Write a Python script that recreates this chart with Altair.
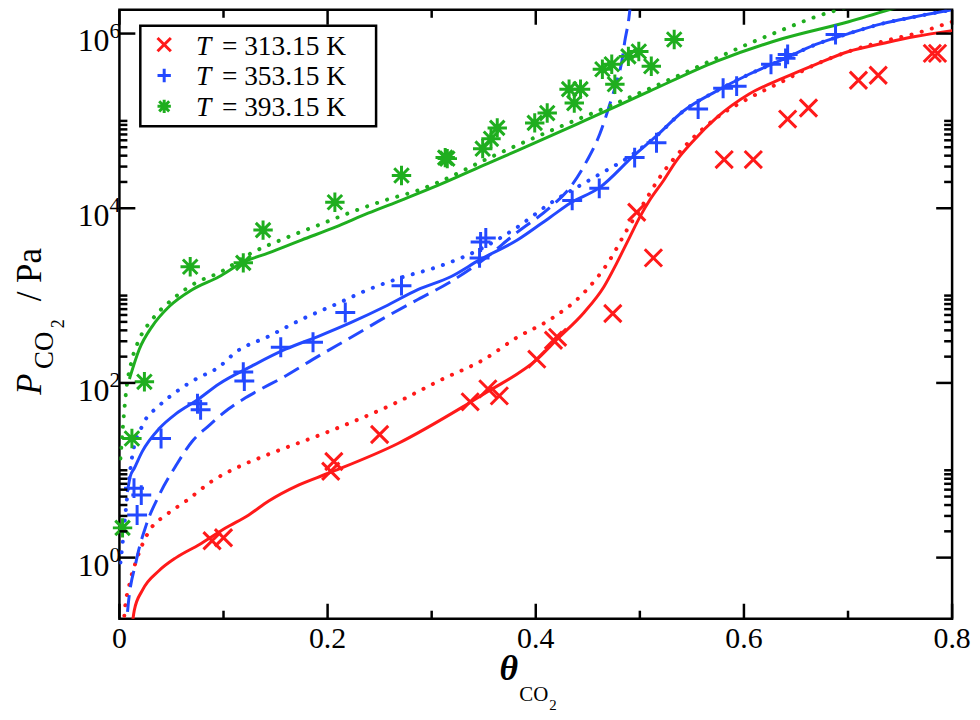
import altair as alt
import pandas as pd

W, H = 837, 612
FONT = "Liberation Serif, Times New Roman, Times, serif"
RED, BLUE, GREEN = "#ff1a1a", "#2349ff", "#1fae1f"

# ---------------- data ----------------
red_theta = [0.089, 0.100, 0.203, 0.206, 0.250, 0.337, 0.354, 0.365, 0.401, 0.417, 0.421,
             0.474, 0.497, 0.513, 0.581, 0.609, 0.642, 0.662, 0.710, 0.729, 0.781, 0.786]
red_P = [1.56, 1.69, 9.75, 12.6, 25.7, 60.8, 85.5, 71.1, 187, 308, 333,
         624, 9010, 2700, 36100, 36100, 105000, 140600, 292000, 333000, 593000, 593000]

blue_theta = [0.014, 0.021, 0.017, 0.040, 0.075, 0.078, 0.119, 0.120, 0.155, 0.186, 0.217,
              0.271, 0.347, 0.352, 0.346, 0.435, 0.461, 0.495, 0.516, 0.556, 0.580, 0.593,
              0.626, 0.640, 0.642, 0.688]
blue_P = [6.24, 5.2, 3.08, 23.1, 57.7, 49.3, 133, 105, 256, 292, 641,
          1300, 4110, 4560, 2700, 12300, 16900, 38000, 56200, 137000, 237000, 250000,
          445000, 520000, 577000, 975000]

green_theta = [0.003, 0.012, 0.024, 0.068, 0.119, 0.138, 0.207, 0.271, 0.313, 0.315, 0.349,
               0.357, 0.363, 0.399, 0.411, 0.432, 0.443, 0.437, 0.464, 0.473, 0.476, 0.489,
               0.499, 0.511, 0.533]
green_P = [2.19, 23.1, 103, 2140, 2370, 5620, 11700, 23700, 38000, 37000, 48100,
           62400, 83200, 94900, 123000, 231000, 231000, 160000, 390000, 445000, 263000, 548000,
           624000, 422000, 855000]

# model curves: theta and log10(P / Pa)
red_solid_theta = [0.0105, 0.0143, 0.0220, 0.0382, 0.0545, 0.0765, 0.1023, 0.1243, 0.1434, 0.1720,
                   0.2007, 0.2676, 0.3317, 0.3536, 0.4014, 0.4205, 0.4464, 0.4655, 0.4779, 0.4903,
                   0.4999, 0.5094, 0.5228, 0.5352, 0.5515, 0.5735, 0.6050, 0.6375, 0.6691, 0.7006,
                   0.7331, 0.7646, 0.8000]
red_solid_logp = [-0.966, -0.602, -0.375, -0.148, 0.0, 0.148, 0.341, 0.489, 0.648, 0.830,
                  0.966, 1.307, 1.739, 1.898, 2.273, 2.500, 2.807, 3.102, 3.375, 3.670,
                  3.898, 4.091, 4.318, 4.545, 4.773, 5.034, 5.307, 5.489, 5.648, 5.795,
                  5.886, 5.966, 6.034]

red_dot_theta = [0.0038, 0.0048, 0.0096, 0.0162, 0.0287, 0.0449, 0.0640, 0.0889, 0.1176, 0.1405,
                 0.2036, 0.2676, 0.3087, 0.3508, 0.3823, 0.4139, 0.4464, 0.4712, 0.4875, 0.5037,
                 0.5190, 0.5419, 0.5735, 0.6050, 0.6375, 0.6691, 0.7006, 0.7331, 0.7646, 0.8000]
red_dot_logp = [-0.909, -0.648, -0.307, -0.034, 0.307, 0.489, 0.648, 0.875, 1.057, 1.170,
                1.455, 1.784, 2.034, 2.273, 2.523, 2.727, 3.034, 3.409, 3.750, 4.057,
                4.352, 4.693, 5.034, 5.261, 5.455, 5.648, 5.795, 5.909, 6.0, 6.136]

blue_solid_theta = [0.0076, 0.0105, 0.0143, 0.0220, 0.0382, 0.0545, 0.0736, 0.0956, 0.1271, 0.1596,
                    0.1912, 0.2227, 0.2552, 0.2867, 0.3183, 0.3460, 0.3823, 0.4139, 0.4330, 0.4616,
                    0.4941, 0.5161, 0.5419, 0.5735, 0.6050, 0.6375, 0.6691, 0.7006, 0.7331, 0.7646,
                    0.8000]
blue_solid_logp = [0.750, 0.932, 1.023, 1.216, 1.477, 1.648, 1.795, 1.989, 2.193, 2.386,
                   2.534, 2.693, 2.875, 3.068, 3.216, 3.409, 3.636, 3.898, 4.057, 4.239,
                   4.602, 4.830, 5.114, 5.341, 5.534, 5.705, 5.875, 6.0, 6.114, 6.193,
                   6.273]

blue_dot_theta = [0.0010, 0.0029, 0.0076, 0.0124, 0.0220, 0.0382, 0.0545, 0.0736, 0.0956, 0.1118,
                  0.1434, 0.1749, 0.2074, 0.2389, 0.2705, 0.3059, 0.3508, 0.3823, 0.4139, 0.4559,
                  0.4941, 0.5161, 0.5419, 0.5735, 0.6050, 0.6375, 0.6691, 0.7006, 0.7331, 0.7646,
                  0.8000]
blue_dot_logp = [-0.057, 0.148, 0.716, 1.170, 1.511, 1.739, 1.898, 2.045, 2.182, 2.352,
                 2.534, 2.727, 2.898, 3.068, 3.205, 3.330, 3.557, 3.784, 4.057, 4.352,
                 4.625, 4.830, 5.114, 5.341, 5.534, 5.705, 5.875, 6.0, 6.114, 6.193,
                 6.273]

blue_dash_theta = [0.0067, 0.0076, 0.0162, 0.0258, 0.0382, 0.0545, 0.0698, 0.0860, 0.1051, 0.1243,
                   0.1596, 0.1912, 0.2227, 0.2552, 0.2867, 0.3183, 0.3470, 0.3823, 0.4139, 0.4330,
                   0.4492, 0.4616, 0.4712, 0.4779, 0.4827, 0.4855, 0.4894, 0.4913, 0.4932]
blue_dash_logp = [-0.909, -0.648, -0.034, 0.375, 0.716, 1.057, 1.330, 1.511, 1.705, 1.852,
                  2.080, 2.307, 2.523, 2.750, 2.955, 3.159, 3.386, 3.727, 4.011, 4.239,
                  4.545, 4.852, 5.193, 5.455, 5.682, 5.909, 6.170, 6.364, 6.590]

green_solid_theta = [0.0096, 0.0191, 0.0315, 0.0478, 0.0698, 0.0956, 0.1176, 0.1434, 0.1749, 0.2074,
                     0.2389, 0.2705, 0.3059, 0.3536, 0.3823, 0.4464, 0.5094, 0.5735, 0.6375, 0.7006,
                     0.7427, 0.7646]
green_solid_logp = [2.045, 2.386, 2.648, 2.875, 3.068, 3.216, 3.375, 3.489, 3.636, 3.784,
                    3.943, 4.091, 4.261, 4.511, 4.659, 5.0, 5.341, 5.682, 5.943, 6.136,
                    6.284, 6.364]

green_dot_theta = [0.0010, 0.0048, 0.0067, 0.0115, 0.0191, 0.0315, 0.0507, 0.0736, 0.0956, 0.1271,
                   0.1596, 0.1912, 0.2227, 0.2552, 0.2867, 0.3059, 0.3536, 0.4139, 0.4779, 0.5419,
                   0.6050, 0.6375, 0.6691, 0.7006, 0.7168]
green_dot_logp = [1.136, 1.705, 1.932, 2.239, 2.500, 2.727, 2.955, 3.148, 3.261, 3.489,
                  3.659, 3.807, 3.955, 4.091, 4.205, 4.295, 4.568, 4.886, 5.205, 5.545,
                  5.886, 6.045, 6.193, 6.307, 6.364]

x_major = [0.0, 0.2, 0.4, 0.6, 0.8]
x_major_labels = ["0", "0.2", "0.4", "0.6", "0.8"]
x_minor = [0.1, 0.3, 0.5, 0.7]
y_major = [1, 100, 1e4, 1e6]
y_major_exp = ["0", "2", "4", "6"]
y_minor = [2, 3, 4, 5, 6, 7, 8, 9, 10,
           200, 300, 400, 500, 600, 700, 800, 900, 1000,
           2e4, 3e4, 4e4, 5e4, 6e4, 7e4, 8e4, 9e4, 1e5]
legend_temps = ["313.15", "353.15", "393.15"]

# ---------------- chart ----------------
xs = alt.Scale(domain=[0, 0.8], nice=False, zero=False)
ys = alt.Scale(type="log", domain=[0.2, 1.87e6], nice=False)

X_SHAPE = "M-1,-1L1,1M-1,1L1,-1"
PLUS_SHAPE = "M-1,0L1,0M0,-1L0,1"
STAR_SHAPE = "M-1,0L1,0M0,-1L0,1M-0.75,-0.75L0.75,0.75M-0.75,0.75L0.75,-0.75"


def enc_xy(chart):
    return chart.encode(
        x=alt.X("theta:Q", scale=xs, axis=None),
        y=alt.Y("P:Q", scale=ys, axis=None),
    )


def curve(theta, logp, color, style):
    df = pd.DataFrame({"theta": theta, "P": [10 ** v for v in logp], "i": list(range(len(theta)))})
    kw = dict(color=color, clip=True, strokeWidth=3, interpolate="monotone")
    if style == "dot":
        kw.update(strokeDash=[0.1, 10.5], strokeCap="round", strokeWidth=4)
    elif style == "dash":
        kw.update(strokeDash=[17, 8])
    return enc_xy(alt.Chart(df).mark_line(**kw)).encode(order="i:Q")


def points(theta, P, shape, color, size):
    df = pd.DataFrame({"theta": theta, "P": P})
    return enc_xy(alt.Chart(df).mark_point(shape=shape, filled=False, color=color,
                                           strokeWidth=3, size=size, opacity=1))


layers = [
    curve(red_dot_theta, red_dot_logp, RED, "dot"),
    curve(red_solid_theta, red_solid_logp, RED, "solid"),
    curve(blue_dot_theta, blue_dot_logp, BLUE, "dot"),
    curve(blue_dash_theta, blue_dash_logp, BLUE, "dash"),
    curve(blue_solid_theta, blue_solid_logp, BLUE, "solid"),
    curve(green_dot_theta, green_dot_logp, GREEN, "dot"),
    curve(green_solid_theta, green_solid_logp, GREEN, "solid"),
    points(red_theta, red_P, X_SHAPE, RED, 300),
    points(blue_theta, blue_P, PLUS_SHAPE, BLUE, 400),
    points(green_theta, green_P, STAR_SHAPE, GREEN, 380),
]

# inward ticks on all four sides
TW = 2.5
def xticks(vals, length):
    df = pd.DataFrame({"v": vals})
    base = alt.Chart(df).mark_rule(color="black", strokeWidth=TW)
    xe = alt.X("v:Q", scale=xs, axis=None)
    return [base.encode(x=xe, y=alt.value(H), y2=alt.value(H - length)),
            base.encode(x=xe, y=alt.value(0), y2=alt.value(length))]

def yticks(vals, length):
    df = pd.DataFrame({"v": vals})
    base = alt.Chart(df).mark_rule(color="black", strokeWidth=TW)
    ye = alt.Y("v:Q", scale=ys, axis=None)
    return [base.encode(y=ye, x=alt.value(0), x2=alt.value(length)),
            base.encode(y=ye, x=alt.value(W), x2=alt.value(W - length))]

layers += xticks(x_major, 15) + xticks(x_minor, 8) + yticks(y_major, 16) + yticks(y_minor, 8)

# tick labels
xl = pd.DataFrame({"v": x_major, "lab": x_major_labels})
layers.append(alt.Chart(xl).mark_text(font=FONT, fontSize=30, baseline="alphabetic",
                                      align="center", color="black").encode(
    x=alt.X("v:Q", scale=xs, axis=None), y=alt.value(H + 29), text="lab:N"))

yl = pd.DataFrame({"v": y_major, "e": y_major_exp, "base": ["10"] * len(y_major)})
layers.append(alt.Chart(yl).mark_text(font=FONT, fontSize=32, baseline="alphabetic",
                                      align="right", dy=18, color="black").encode(
    y=alt.Y("v:Q", scale=ys, axis=None), x=alt.value(-10), text="base:N"))
layers.append(alt.Chart(yl).mark_text(font=FONT, fontSize=22, baseline="alphabetic",
                                      align="left", dy=4, color="black").encode(
    y=alt.Y("v:Q", scale=ys, axis=None), x=alt.value(-10), text="e:N"))

one = pd.DataFrame({"k": [0]})


def label(text, x, y, size, angle=0, style="normal", weight="normal", align="left"):
    kw = dict(text=text, font=FONT, fontSize=size, fontStyle=style, fontWeight=weight,
              baseline="alphabetic", align=align, color="black")
    if angle:
        kw["angle"] = angle
    return alt.Chart(one).mark_text(**kw).encode(x=alt.value(x), y=alt.value(y))

# axis titles
layers += [
    label("P", -79, 387, 35, angle=270, style="italic"),
    label("CO", -67, 361, 27, angle=270),
    label("2", -56, 320, 18, angle=270),
    label("/ Pa", -79, 293, 35, angle=270),
    label("θ", 382, 674, 36, style="italic", weight="bold"),
    label("CO", 402, 695, 21),
    label("2", 432, 704, 15),
]

# legend
layers.append(alt.Chart(one).mark_rect(fill="white", stroke="black", strokeWidth=2.5).encode(
    x=alt.value(21), x2=alt.value(258), y=alt.value(16), y2=alt.value(117)))
leg_shapes = [(X_SHAPE, RED), (PLUS_SHAPE, BLUE), (STAR_SHAPE, GREEN)]
row_y = [35, 66, 97]
for (shape, col), ry, temp in zip(leg_shapes, row_y, legend_temps):
    layers.append(alt.Chart(one).mark_point(shape=shape, filled=False, color=col, strokeWidth=3,
                                            size=180, opacity=1).encode(
        x=alt.value(45), y=alt.value(ry)))
    layers.append(label("T", 77, ry + 10, 27.5, style="italic"))
    layers.append(label("= " + temp + " K", 103, ry + 10, 27.5))

chart = alt.layer(*layers).properties(
    width=W, height=H,
    padding={"left": 112, "top": 0, "right": 20, "bottom": 95},
    autosize=alt.AutoSizeParams(type="none"),
    background="white",
).configure_view(stroke="black", strokeWidth=2.5)

chart.save("out.html", embed_options={"renderer": "svg", "actions": False})
